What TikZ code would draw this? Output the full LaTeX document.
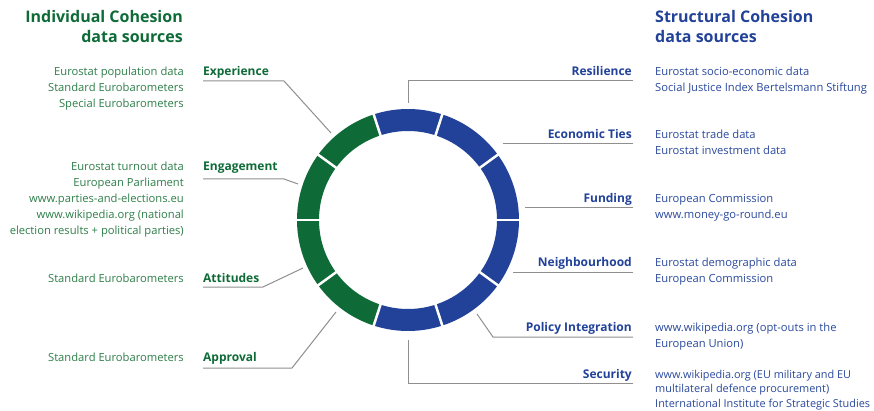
\documentclass[tikz,border=0pt]{standalone}
\usepackage{fontspec}
\setmainfont{Open Sans}
\usetikzlibrary{positioning}
\definecolor{ringgreen}{HTML}{0E6B37}
\definecolor{ringblue}{HTML}{22429A}
\definecolor{txtgreen}{HTML}{2F7F4A}
\definecolor{txtblue}{HTML}{2B4A9E}
\definecolor{linegray}{HTML}{8F8F8F}
\begin{document}
\begin{tikzpicture}[x=1pt, y=-1pt,
    title/.style={font=\fontsize{16}{20}\selectfont\bfseries, inner sep=0pt},
    srcs/.style={font=\fontsize{11.2}{16}\selectfont, inner sep=0pt},
    lab/.style={font=\fontsize{12}{16}\selectfont\bfseries, inner sep=0pt},
    conn/.style={draw=linegray, line width=1pt}]
    \useasboundingbox[fill=white] (0,0) rectangle (874,411);

    % ring
    \begin{scope}[shift={(408,220)}, y=1pt]
        \foreach \a/\col in {0/ringblue,36/ringblue,72/ringblue,108/ringgreen,144/ringgreen,
                             180/ringgreen,216/ringgreen,252/ringblue,288/ringblue,324/ringblue}
            \fill[\col] (\a:111) arc[start angle=\a, end angle=\a+36, radius=111]
                -- (\a+36:89) arc[start angle=\a+36, end angle=\a, radius=89] -- cycle;
        \foreach \a in {0,36,...,324}
            \draw[white, line width=2.5pt] (\a:86) -- (\a:114);
    \end{scope}

    % titles (anchored on the baseline of the last line)
    \node[title, text=ringgreen, align=right, anchor=base east] (indtitle) at (183,43)
        {Individual Cohesion\\data sources};
    \node[title, text=ringblue, align=left, anchor=base west] (strtitle) at (655,43)
        {Structural Cohesion\\data sources};

    % individual cohesion
    \node[lab, text=ringgreen, anchor=base west] (exper) at (203,76) {Experience};
    \node[srcs, text=txtgreen, align=right, anchor=base east] (expersrc) at (184,108)
        {Eurostat population data\\Standard Eurobarometers\\Special Eurobarometers};
    \node[lab, text=ringgreen, anchor=base west] (engag) at (203,171) {Engagement};
    \node[srcs, text=txtgreen, align=right, anchor=base east] (engagsrc) at (184,235)
        {Eurostat turnout data\\European Parliament\\www.parties-and-elections.eu\\www.wikipedia.org (national\\election results + political parties)};
    \node[lab, text=ringgreen, anchor=base west] (attit) at (203,282) {Attitudes};
    \node[srcs, text=txtgreen, align=right, anchor=base east] (attitsrc) at (184,282)
        {Standard Eurobarometers};
    \node[lab, text=ringgreen, anchor=base west] (approv) at (203,361) {Approval};
    \node[srcs, text=txtgreen, align=right, anchor=base east] (approvsrc) at (184,361)
        {Standard Eurobarometers};

    % structural cohesion
    \node[lab, text=ringblue, anchor=base east] (resil) at (632,76) {Resilience};
    \node[srcs, text=txtblue, align=left, anchor=base west] (resilsrc) at (655,92)
        {Eurostat socio-economic data\\Social Justice Index Bertelsmann Stiftung};
    \node[lab, text=ringblue, anchor=base east] (econ) at (632,139) {Economic Ties};
    \node[srcs, text=txtblue, align=left, anchor=base west] (econsrc) at (655,155)
        {Eurostat trade data\\Eurostat investment data};
    \node[lab, text=ringblue, anchor=base east] (fund) at (632,203) {Funding};
    \node[srcs, text=txtblue, align=left, anchor=base west] (fundsrc) at (655,219)
        {European Commission\\www.money-go-round.eu};
    \node[lab, text=ringblue, anchor=base east] (neigh) at (632,267) {Neighbourhood};
    \node[srcs, text=txtblue, align=left, anchor=base west] (neighsrc) at (655,283)
        {Eurostat demographic data\\European Commission};
    \node[lab, text=ringblue, anchor=base east] (policy) at (632,331) {Policy Integration};
    \node[srcs, text=txtblue, align=left, anchor=base west] (policysrc) at (655,347)
        {www.wikipedia.org (opt-outs in the\\European Union)};
    \node[lab, text=ringblue, anchor=base east] (secur) at (632,378) {Security};
    \node[srcs, font=\fontsize{10.9}{14.5}\selectfont, text=txtblue, align=left, anchor=base west] (secursrc) at (655,407)
        {www.wikipedia.org (EU military and EU\\multilateral defence procurement)\\International Institute for Strategic Studies};

    % connector ends
    \coordinate (exper-a) at (203,81);  \coordinate (exper-b) at (284,81);  \coordinate (exper-r) at (331,133);
    \coordinate (engag-a) at (203,179); \coordinate (engag-b) at (284,179); \coordinate (engag-r) at (298,184);
    \coordinate (attit-a) at (203,287); \coordinate (attit-b) at (263,287); \coordinate (attit-r) at (303,268);
    \coordinate (approv-a) at (203,368); \coordinate (approv-b) at (292,368); \coordinate (approv-r) at (336,312);
    \coordinate (resil-r) at (408,103);  \coordinate (resil-a) at (633,81);
    \coordinate (econ-r) at (503,144);   \coordinate (econ-a) at (633,144);
    \coordinate (fund-r) at (525,208);   \coordinate (fund-a) at (633,208);
    \coordinate (neigh-r) at (513,273);  \coordinate (neigh-a) at (633,273);
    \coordinate (policy-r) at (477,314); \coordinate (policy-b) at (493,337); \coordinate (policy-a) at (633,337);
    \coordinate (secur-r) at (408,340);  \coordinate (secur-a) at (633,383);

    % connectors
    \draw[conn] (exper-a) -- (exper-b) -- (exper-r);
    \draw[conn] (engag-a) -- (engag-b) -- (engag-r);
    \draw[conn] (attit-a) -- (attit-b) -- (attit-r);
    \draw[conn] (approv-a) -- (approv-b) -- (approv-r);
    \draw[conn] (resil-r) |- (resil-a);
    \draw[conn] (econ-r) -- (econ-a);
    \draw[conn] (fund-r) -- (fund-a);
    \draw[conn] (neigh-r) -- (neigh-a);
    \draw[conn] (policy-r) -- (policy-b) -- (policy-a);
    \draw[conn] (secur-r) |- (secur-a);
\end{tikzpicture}
\end{document}
